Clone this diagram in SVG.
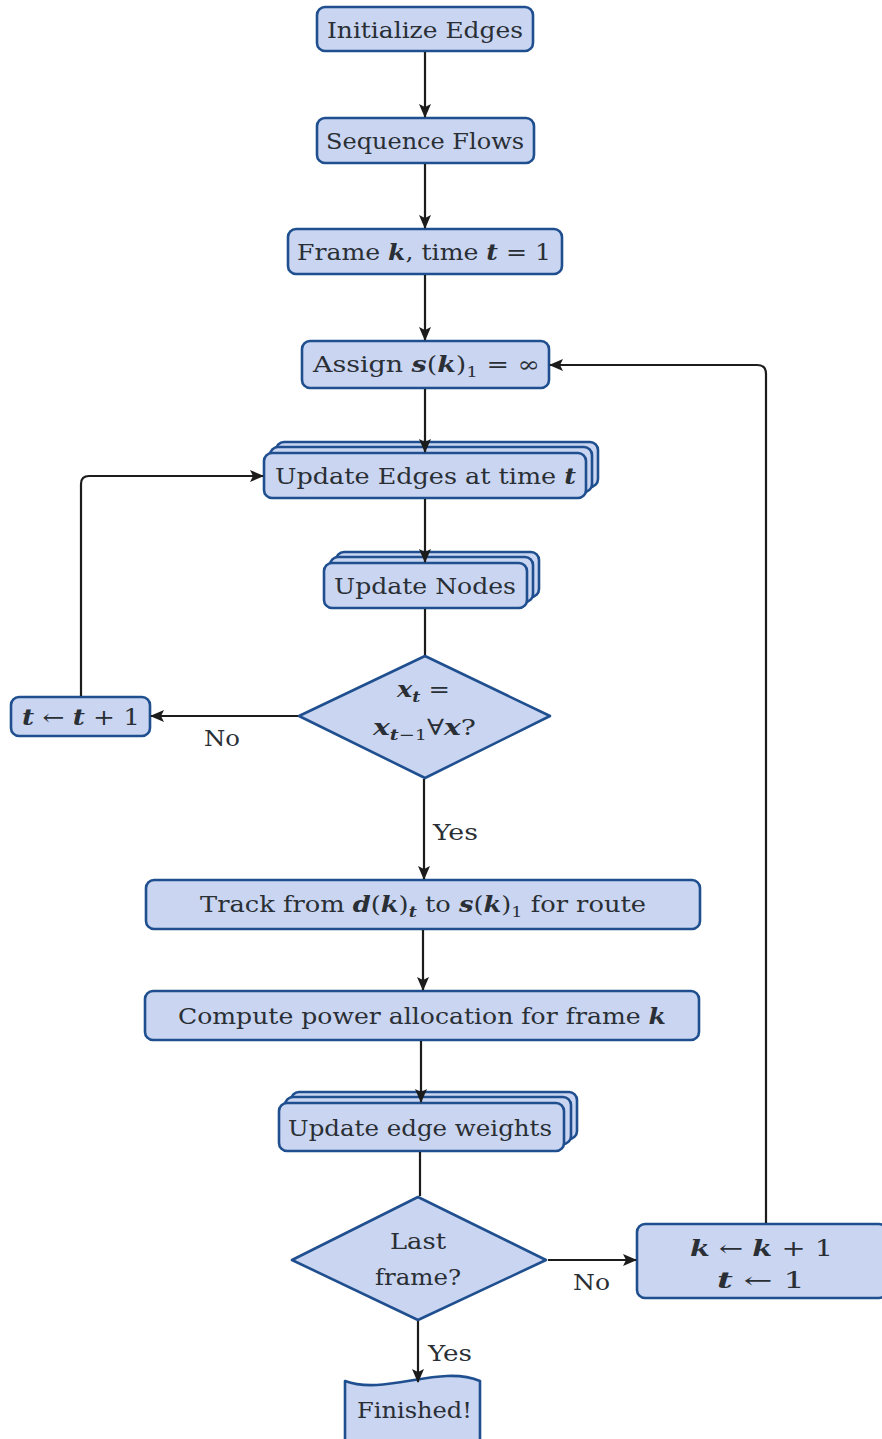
<svg xmlns="http://www.w3.org/2000/svg" width="882" height="1439" viewBox="0 0 882 1439">
<style>
.bx{fill:#c9d5f1;stroke:#1f4f8f;stroke-width:2.6;stroke-linejoin:round}
.t{font-family:"DejaVu Serif","Liberation Serif",serif;font-size:22px;fill:#2a2f35}
.m{font-style:italic;font-weight:bold}
.sub{font-size:15px}
.c{fill:none;stroke:#1c1c1c;stroke-width:2.2}
</style>
<defs>
<marker id="ah" markerWidth="14" markerHeight="12" refX="13" refY="6" orient="auto" markerUnits="userSpaceOnUse">
<path d="M0,0 L14,6 L0,12 L3,6 z" fill="#1c1c1c"/>
</marker>
</defs>
<rect width="882" height="1439" fill="#ffffff"/>

<g id="n1">
<rect class="bx" x="317" y="7" width="216" height="44" rx="8"/>
<text class="t" x="327" y="38" textLength="196" lengthAdjust="spacingAndGlyphs">Initialize Edges</text>
</g>
<g id="n2">
<rect class="bx" x="317" y="118" width="217" height="45" rx="8"/>
<text class="t" x="326" y="149" textLength="198" lengthAdjust="spacingAndGlyphs">Sequence Flows</text>
</g>
<g id="n3">
<rect class="bx" x="288" y="229" width="274" height="45" rx="8"/>
<text class="t" x="297" y="260" textLength="254" lengthAdjust="spacingAndGlyphs">Frame <tspan class="m">k</tspan>, time <tspan class="m">t</tspan> = 1</text>
</g>
<g id="n4">
<rect class="bx" x="302" y="341" width="247" height="47" rx="8"/>
<text class="t" x="313" y="372" textLength="227" lengthAdjust="spacingAndGlyphs">Assign <tspan class="m">s</tspan>(<tspan class="m">k</tspan>)<tspan class="sub" dy="5">1</tspan><tspan dy="-5"> = ∞</tspan></text>
</g>
<g id="n5">
<rect class="bx" x="276" y="442" width="322" height="45" rx="8"/>
<rect class="bx" x="270" y="447" width="322" height="45" rx="8"/>
<rect class="bx" x="264" y="453" width="322" height="45" rx="8"/>
<text class="t" x="275" y="484" textLength="301" lengthAdjust="spacingAndGlyphs">Update Edges at time <tspan class="m">t</tspan></text>
</g>
<g id="n6">
<rect class="bx" x="336" y="552" width="203" height="45" rx="8"/>
<rect class="bx" x="330" y="557" width="203" height="45" rx="8"/>
<rect class="bx" x="324" y="563" width="203" height="45" rx="8"/>
<text class="t" x="334" y="594" textLength="182" lengthAdjust="spacingAndGlyphs">Update Nodes</text>
</g>
<g id="n7">
<path class="bx" d="M425,656 L550,716 L425,778 L299,716 Z"/>
<text class="t" x="397" y="697" textLength="53" lengthAdjust="spacingAndGlyphs"><tspan class="m">x</tspan><tspan class="sub m" dy="5">t</tspan><tspan dy="-5"> =</tspan></text>
<text class="t" x="373" y="735" textLength="103" lengthAdjust="spacingAndGlyphs"><tspan class="m">x</tspan><tspan class="sub m" dy="5">t</tspan><tspan class="sub">−1</tspan><tspan dy="-5">∀</tspan><tspan class="m">x</tspan>?</text>
</g>
<g id="n8">
<rect class="bx" x="11" y="697" width="139" height="39" rx="8"/>
<text class="t" x="22" y="725" textLength="118" lengthAdjust="spacingAndGlyphs"><tspan class="m">t</tspan> ← <tspan class="m">t</tspan> + 1</text>
</g>
<g id="n9">
<rect class="bx" x="146" y="880" width="554" height="49" rx="8"/>
<text class="t" x="200" y="912" textLength="446" lengthAdjust="spacingAndGlyphs">Track from <tspan class="m">d</tspan>(<tspan class="m">k</tspan>)<tspan class="sub m" dy="5">t</tspan><tspan dy="-5"> to </tspan><tspan class="m">s</tspan>(<tspan class="m">k</tspan>)<tspan class="sub" dy="5">1</tspan><tspan dy="-5"> for route</tspan></text>
</g>
<g id="n10">
<rect class="bx" x="145" y="991" width="554" height="49" rx="8"/>
<text class="t" x="178" y="1024" textLength="488" lengthAdjust="spacingAndGlyphs">Compute power allocation for frame <tspan class="m">k</tspan></text>
</g>
<g id="n11">
<rect class="bx" x="291" y="1092" width="286" height="47" rx="8"/>
<rect class="bx" x="285" y="1097" width="286" height="47" rx="8"/>
<rect class="bx" x="279" y="1103" width="285" height="48" rx="8"/>
<text class="t" x="288" y="1136" textLength="264" lengthAdjust="spacingAndGlyphs">Update edge weights</text>
</g>
<g id="n12">
<path class="bx" d="M418,1197 L546,1260 L418,1320 L292,1260 Z"/>
<text class="t" x="390" y="1249" textLength="56" lengthAdjust="spacingAndGlyphs">Last</text>
<text class="t" x="375" y="1285" textLength="86" lengthAdjust="spacingAndGlyphs">frame?</text>
</g>
<g id="n13">
<rect class="bx" x="637" y="1224" width="250" height="74" rx="8"/>
<text class="t" x="690" y="1256" textLength="143" lengthAdjust="spacingAndGlyphs"><tspan class="m">k</tspan> ← <tspan class="m">k</tspan> + 1</text>
<text class="t" x="717" y="1288" textLength="88" lengthAdjust="spacingAndGlyphs"><tspan class="m">t</tspan> ← 1</text>
</g>
<g id="n14">
<path class="bx" d="M345,1445 L345,1381 C385,1396 440,1364 480,1381 L480,1445 Z"/>
<text class="t" x="357" y="1418" textLength="115" lengthAdjust="spacingAndGlyphs">Finished!</text>
</g>

<g id="connectors">
<line class="c" x1="425" y1="52" x2="425" y2="117" marker-end="url(#ah)"/>
<line class="c" x1="425" y1="164" x2="425" y2="228" marker-end="url(#ah)"/>
<line class="c" x1="425" y1="275" x2="425" y2="340" marker-end="url(#ah)"/>
<line class="c" x1="425" y1="389" x2="425" y2="452" marker-end="url(#ah)"/>
<line class="c" x1="425" y1="499" x2="425" y2="562" marker-end="url(#ah)"/>
<line class="c" x1="425" y1="609" x2="425" y2="655"/>
<line class="c" x1="298" y1="716" x2="151" y2="716" marker-end="url(#ah)"/>
<path class="c" d="M81,696 L81,484 Q81,476 89,476 L263,476" marker-end="url(#ah)"/>
<line class="c" x1="424" y1="779" x2="424" y2="879" marker-end="url(#ah)"/>
<line class="c" x1="423" y1="930" x2="423" y2="990" marker-end="url(#ah)"/>
<line class="c" x1="421" y1="1041" x2="421" y2="1102" marker-end="url(#ah)"/>
<line class="c" x1="420" y1="1152" x2="420" y2="1196"/>
<line class="c" x1="548" y1="1260" x2="636" y2="1260" marker-end="url(#ah)"/>
<path class="c" d="M766,1223 L766,374 Q766,365 757,365 L550,365" marker-end="url(#ah)"/>
<line class="c" x1="418" y1="1321" x2="418" y2="1382" marker-end="url(#ah)"/>
<text class="t" x="204" y="746" textLength="36" lengthAdjust="spacingAndGlyphs">No</text>
<text class="t" x="433" y="840" textLength="45" lengthAdjust="spacingAndGlyphs">Yes</text>
<text class="t" x="573" y="1290" textLength="37" lengthAdjust="spacingAndGlyphs">No</text>
<text class="t" x="428" y="1361" textLength="44" lengthAdjust="spacingAndGlyphs">Yes</text>
</g>
</svg>
